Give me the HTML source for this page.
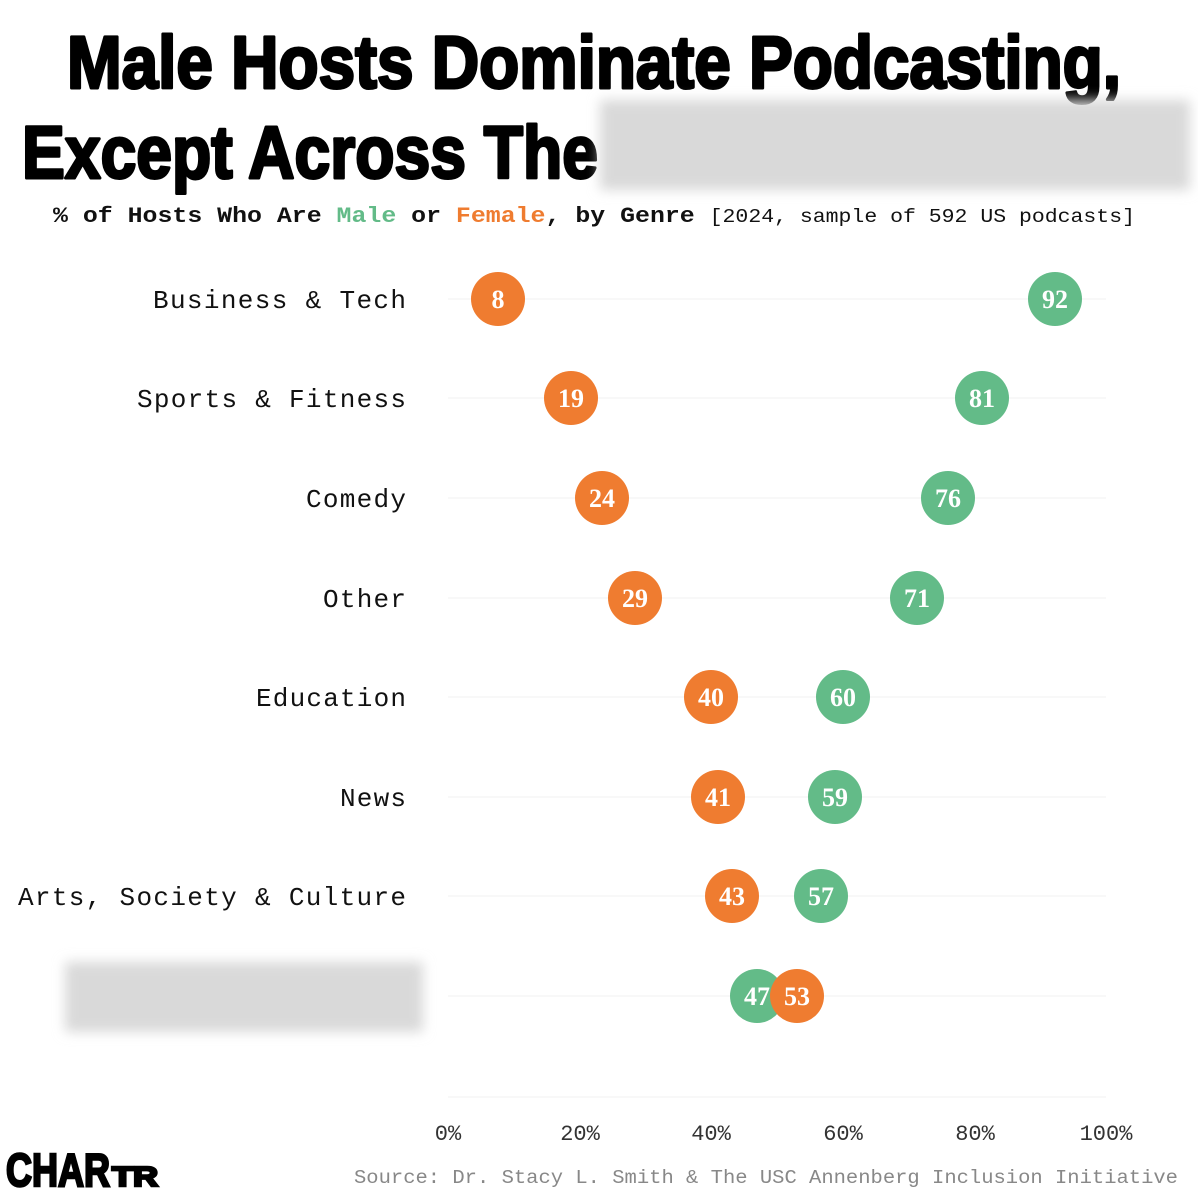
<!DOCTYPE html>
<html><head><meta charset="utf-8"><style>
html,body{margin:0;padding:0;background:#fff;}
svg{display:block}
</style></head><body>
<svg width="1198" height="1196" viewBox="0 0 1198 1196" xmlns="http://www.w3.org/2000/svg">
<defs><filter id="b" x="-20%" y="-40%" width="140%" height="180%"><feGaussianBlur stdDeviation="6"/></filter></defs>
<g font-family="'Liberation Sans Narrow','Liberation Sans',sans-serif" font-weight="bold" fill="#000" stroke="#000" stroke-width="3" stroke-linejoin="round">
<text x="594" y="88" text-anchor="middle" font-size="74" textLength="1054" lengthAdjust="spacingAndGlyphs">Male Hosts Dominate Podcasting,</text>
<text x="22" y="178" font-size="74" textLength="576" lengthAdjust="spacingAndGlyphs">Except Across The</text>
</g>
<rect x="600" y="100" width="590" height="90" fill="#d9d9d9" filter="url(#b)"/>
<text x="594" y="222" text-anchor="middle" font-family="'Liberation Mono',monospace" font-size="22" font-weight="bold" fill="#111" textLength="1082" lengthAdjust="spacingAndGlyphs">% of Hosts Who Are <tspan fill="#63bb88">Male</tspan> or <tspan fill="#ef7c30">Female</tspan>, by Genre <tspan font-weight="normal" font-size="19">[2024, sample of 592 US podcasts]</tspan></text>
<g stroke="#f6f6f6" stroke-width="1.5">
<line x1="448" x2="1106" y1="299" y2="299"/><line x1="448" x2="1106" y1="398" y2="398"/>
<line x1="448" x2="1106" y1="498" y2="498"/><line x1="448" x2="1106" y1="598" y2="598"/>
<line x1="448" x2="1106" y1="697" y2="697"/><line x1="448" x2="1106" y1="797" y2="797"/>
<line x1="448" x2="1106" y1="896" y2="896"/><line x1="448" x2="1106" y1="996" y2="996"/>
<line x1="448" x2="1106" y1="1097" y2="1097"/>
</g>
<g font-family="'Liberation Mono',monospace" font-size="26" fill="#111">
<text x="153" y="308" textLength="253" lengthAdjust="spacing">Business &amp; Tech</text>
<text x="137" y="407" textLength="269" lengthAdjust="spacing">Sports &amp; Fitness</text>
<text x="306" y="507" textLength="100" lengthAdjust="spacing">Comedy</text>
<text x="323" y="607" textLength="83" lengthAdjust="spacing">Other</text>
<text x="256" y="706" textLength="150" lengthAdjust="spacing">Education</text>
<text x="340" y="806" textLength="66" lengthAdjust="spacing">News</text>
<text x="18" y="905" textLength="388" lengthAdjust="spacing">Arts, Society &amp; Culture</text>
</g>
<rect x="65" y="962" width="358" height="70" fill="#d9d9d9" filter="url(#b)"/>
<g font-family="'Liberation Serif',serif" font-weight="bold" font-size="26" fill="#fff" text-anchor="middle">
<circle cx="1055" cy="299" r="27" fill="#63bb88"/><text x="1055" y="308">92</text>
<circle cx="498" cy="299" r="27" fill="#ef7c30"/><text x="498" y="308">8</text>
<circle cx="982" cy="398" r="27" fill="#63bb88"/><text x="982" y="407">81</text>
<circle cx="571" cy="398" r="27" fill="#ef7c30"/><text x="571" y="407">19</text>
<circle cx="948" cy="498" r="27" fill="#63bb88"/><text x="948" y="507">76</text>
<circle cx="602" cy="498" r="27" fill="#ef7c30"/><text x="602" y="507">24</text>
<circle cx="917" cy="598" r="27" fill="#63bb88"/><text x="917" y="607">71</text>
<circle cx="635" cy="598" r="27" fill="#ef7c30"/><text x="635" y="607">29</text>
<circle cx="843" cy="697" r="27" fill="#63bb88"/><text x="843" y="706">60</text>
<circle cx="711" cy="697" r="27" fill="#ef7c30"/><text x="711" y="706">40</text>
<circle cx="835" cy="797" r="27" fill="#63bb88"/><text x="835" y="806">59</text>
<circle cx="718" cy="797" r="27" fill="#ef7c30"/><text x="718" y="806">41</text>
<circle cx="821" cy="896" r="27" fill="#63bb88"/><text x="821" y="905">57</text>
<circle cx="732" cy="896" r="27" fill="#ef7c30"/><text x="732" y="905">43</text>
<circle cx="757" cy="996" r="27" fill="#63bb88"/><text x="757" y="1005">47</text>
<circle cx="797" cy="996" r="27" fill="#ef7c30"/><text x="797" y="1005">53</text>
</g>
<g font-family="'Liberation Mono',monospace" font-size="22" fill="#333" text-anchor="middle">
<text x="448" y="1140">0%</text><text x="580" y="1140">20%</text><text x="711" y="1140">40%</text>
<text x="843" y="1140">60%</text><text x="975" y="1140">80%</text><text x="1106" y="1140">100%</text>
</g>
<text x="1178" y="1183" text-anchor="end" font-family="'Liberation Mono',monospace" font-size="19" fill="#888" textLength="824" lengthAdjust="spacingAndGlyphs">Source: Dr. Stacy L. Smith &amp; The USC Annenberg Inclusion Initiative</text>
<g font-family="'Liberation Sans Narrow','Liberation Sans',sans-serif" font-weight="bold" fill="#000" stroke="#000" stroke-width="2.5">
<text x="6" y="1186" font-size="46" textLength="104" lengthAdjust="spacingAndGlyphs">CHAR</text>
<text x="112" y="1186" font-size="28" textLength="46" lengthAdjust="spacingAndGlyphs">TR</text>
</g>
</svg>
</body></html>
